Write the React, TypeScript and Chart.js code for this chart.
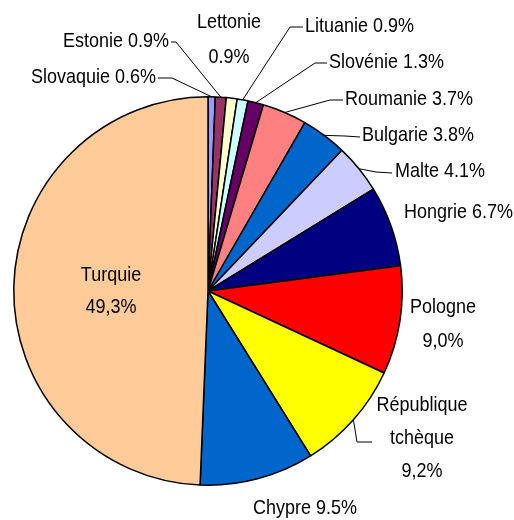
import React, { useEffect, useRef } from "react";
import { Chart, registerables } from "chart.js";

Chart.register(...registerables);

const countries = [
  "Slovaquie",
  "Estonie",
  "Lettonie",
  "Lituanie",
  "Slovénie",
  "Roumanie",
  "Bulgarie",
  "Malte",
  "Hongrie",
  "Pologne",
  "République tchèque",
  "Chypre",
  "Turquie",
];
const shares = [0.6, 0.9, 0.9, 0.9, 1.3, 3.7, 3.8, 4.1, 6.7, 9.0, 9.2, 9.5, 49.3];
const colors = [
  "#9999FF",
  "#993366",
  "#FFFFCC",
  "#CCFFFF",
  "#660066",
  "#FF8080",
  "#0066CC",
  "#CCCCFF",
  "#000080",
  "#FF0000",
  "#FFFF00",
  "#0066CC",
  "#FFCC99",
];

type LabelLayout = {
  split: boolean;
  comma: boolean;
  x: number;
  y: number;
  align: CanvasTextAlign;
  gap: number;
  leader?: [number, number][];
};

// label placement (layout only, not data)
const labelLayout: LabelLayout[] = [
  { split: false, comma: false, x: 156, y: 78, align: "right", gap: 0, leader: [[172, 78], [158, 78]] },
  { split: false, comma: false, x: 169, y: 42, align: "right", gap: 0, leader: [[176, 42], [171, 42]] },
  { split: true, comma: false, x: 229, y: 23, align: "center", gap: 35 },
  { split: false, comma: false, x: 305, y: 27, align: "left", gap: 0, leader: [[290, 27], [303, 27]] },
  { split: false, comma: false, x: 329, y: 63, align: "left", gap: 0, leader: [[315, 63], [327, 63]] },
  { split: false, comma: false, x: 345, y: 100, align: "left", gap: 0, leader: [[330, 100], [343, 100]] },
  { split: false, comma: false, x: 362, y: 136, align: "left", gap: 0, leader: [[345, 136], [360, 137]] },
  { split: false, comma: false, x: 395, y: 172, align: "left", gap: 0, leader: [[376, 172], [392, 173]] },
  { split: false, comma: false, x: 404, y: 213, align: "left", gap: 0 },
  { split: true, comma: true, x: 443, y: 308, align: "center", gap: 34 },
  { split: true, comma: true, x: 422, y: 406, align: "center", gap: 33, leader: [[357, 442], [372, 442]] },
  { split: false, comma: false, x: 305, y: 509, align: "center", gap: 0 },
  { split: true, comma: true, x: 111, y: 276, align: "center", gap: 32 },
];

const FONT = '18px "Liberation Sans", Arial, sans-serif';
const SX = 1.0;
const SY = 1.1;

const labelPlugin = {
  id: "pieLabels",
  afterDatasetsDraw(chart: any) {
    const ctx: CanvasRenderingContext2D = chart.ctx;
    const meta = chart.getDatasetMeta(0);
    meta.data.forEach((arc: any, i: number) => {
      const lay = labelLayout[i];
      if (!lay) return;
      const v = shares[i].toFixed(1);
      const val = (lay.comma ? v.replace(".", ",") : v) + "%";
      const name = countries[i];
      const lines = lay.split ? [...name.split(" "), val] : [name + " " + val];
      ctx.save();
      if (lay.leader) {
        const mid = (arc.startAngle + arc.endAngle) / 2;
        const ex = arc.x + Math.cos(mid) * arc.outerRadius;
        const ey = arc.y + Math.sin(mid) * arc.outerRadius;
        ctx.beginPath();
        ctx.moveTo(ex, ey);
        lay.leader.forEach(([px, py]) => ctx.lineTo(px, py));
        ctx.strokeStyle = "#000";
        ctx.lineWidth = 1;
        ctx.stroke();
      }
      ctx.fillStyle = "#000";
      ctx.font = FONT;
      ctx.textAlign = lay.align;
      ctx.textBaseline = "middle";
      lines.forEach((ln, k) => {
        ctx.save();
        ctx.translate(lay.x, lay.y + k * lay.gap);
        ctx.scale(SX, SY);
        ctx.fillText(ln, 0, 0);
        ctx.restore();
      });
      ctx.restore();
    });
  },
};

export default function App() {
  const ref = useRef<HTMLCanvasElement | null>(null);
  useEffect(() => {
    if (!ref.current) return;
    const chart = new Chart(ref.current, {
      type: "pie",
      data: {
        labels: countries,
        datasets: [
          {
            data: shares,
            backgroundColor: colors,
            borderColor: "#000",
            borderWidth: 1.5,
          },
        ],
      },
      options: {
        responsive: false,
        animation: false,
        layout: { padding: { left: 13, right: 111, top: 96, bottom: 34 } },
        plugins: {
          legend: { display: false },
          tooltip: { enabled: false },
        },
      },
      plugins: [labelPlugin],
    });
    return () => chart.destroy();
  }, []);
  return (
    <div style={{ position: "absolute", left: 0, top: 0, width: 514, height: 520, background: "#fff" }}>
      <canvas ref={ref} width={514} height={520} />
    </div>
  );
}
